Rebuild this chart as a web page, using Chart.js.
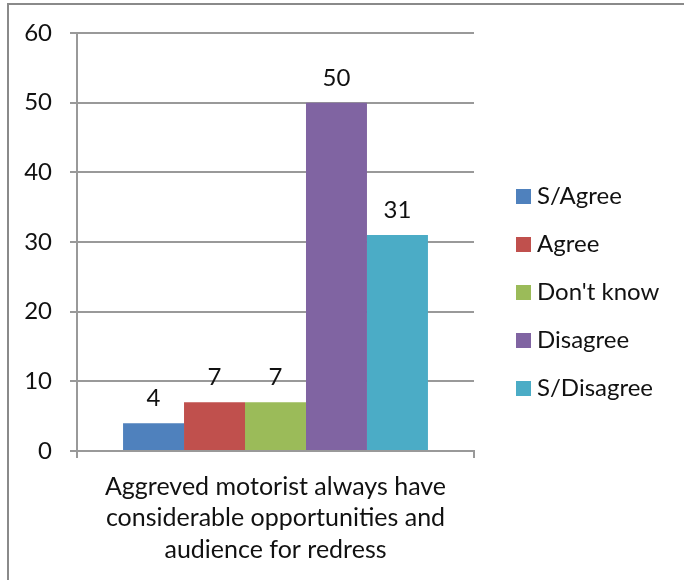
<!DOCTYPE html>
<html lang="en">
<head>
<meta charset="UTF-8">
<meta name="viewport" content="width=device-width, initial-scale=1.0">
<title>Aggreved motorist survey</title>
<script src="https://cdn.jsdelivr.net/npm/chart.js"></script>
<style>
  html, body {
    margin: 0;
    padding: 0;
    background: #fff;
    overflow: hidden;
  }
  .frame {
    position: absolute;
    left: 7px;
    top: 3px;
    width: 720px;
    height: 620px;
    border-left: 2px solid #8a8a8a;
    border-top: 2px solid #8a8a8a;
  }
  #chart { display: block; }
</style>
</head>
<body>
<div class="frame">
  <canvas id="chart" width="675" height="575"></canvas>
</div>

<script>
  const categories = [['Aggreved motorist always have', 'considerable opportunities and', 'audience for redress']];
  const responses = ['S/Agree', 'Agree', "Don't know", 'Disagree', 'S/Disagree'];
  const counts = [4, 7, 7, 50, 31];
  const colors = ['#4F81BD', '#C0504D', '#9BBB59', '#8064A2', '#4BACC6'];
  const yMin = 0;
  const yMax = 60;
  const yStep = 10;

  const FONT = 'Lato';
  const TEXT = '#111';
  const LINE = '#999';

  // one dataset per response so each gets its own legend entry
  const datasets = responses.map((name, i) => ({
    label: name,
    data: [counts[i]],
    backgroundColor: colors[i],
    borderWidth: 0
  }));

  // numbers printed above each bar
  const valueLabels = {
    id: 'valueLabels',
    afterDatasetsDraw(chart) {
      const ctx = chart.ctx;
      ctx.save();
      ctx.font = `24px ${FONT}`;
      ctx.fillStyle = TEXT;
      ctx.textAlign = 'center';
      ctx.textBaseline = 'alphabetic';
      chart.data.datasets.forEach((ds, i) => {
        chart.getDatasetMeta(i).data.forEach((bar, j) => {
          ctx.fillText(ds.data[j], bar.x, bar.y - 17);
        });
      });
      ctx.restore();
    }
  };

  // legend column to the right of the plot, centred on the canvas height
  const sideLegend = {
    id: 'sideLegend',
    afterDraw(chart) {
      const { ctx, chartArea } = chart;
      const sets = chart.data.datasets;
      const x = chartArea.right + 42;
      const rowGap = 48;
      const top = chart.height / 2 - rowGap * (sets.length - 1) / 2;
      ctx.save();
      ctx.font = `24px ${FONT}`;
      ctx.textAlign = 'left';
      ctx.textBaseline = 'middle';
      sets.forEach((ds, i) => {
        const y = top + i * rowGap;
        ctx.fillStyle = ds.backgroundColor;
        ctx.fillRect(x, y - 7.5, 15, 15);
        ctx.fillStyle = TEXT;
        ctx.fillText(ds.label, x + 21, y);
      });
      ctx.restore();
    }
  };

  new Chart(document.getElementById('chart'), {
    type: 'bar',
    data: { labels: categories, datasets },
    plugins: [valueLabels, sideLegend],
    options: {
      responsive: false,
      animation: false,
      categoryPercentage: 0.768,
      barPercentage: 1,
      layout: { padding: { top: 28, right: 210, left: 0, bottom: 0 } },
      plugins: {
        legend: { display: false },
        tooltip: { enabled: false }
      },
      scales: {
        x: {
          grid: {
            display: true,
            drawOnChartArea: false,
            drawTicks: true,
            tickLength: 7,
            color: LINE,
            lineWidth: 2
          },
          border: { display: true, color: LINE, width: 2 },
          ticks: {
            color: TEXT,
            padding: 13,
            maxRotation: 0,
            font: { family: FONT, size: 25, lineHeight: 1.26 }
          },
          afterFit(scale) { scale.height = 129; }
        },
        y: {
          min: yMin,
          max: yMax,
          grid: {
            color: LINE,
            lineWidth: 2,
            drawTicks: true,
            tickLength: 7
          },
          border: { display: true, color: LINE, width: 2 },
          ticks: {
            stepSize: yStep,
            color: TEXT,
            padding: 18,
            font: { family: FONT, size: 24 }
          },
          // fixed width; the top offset comes from layout padding alone
          afterFit(scale) {
            scale.width = 68;
            scale.paddingTop = 0;
          }
        }
      }
    }
  });
</script>
</body>
</html>
